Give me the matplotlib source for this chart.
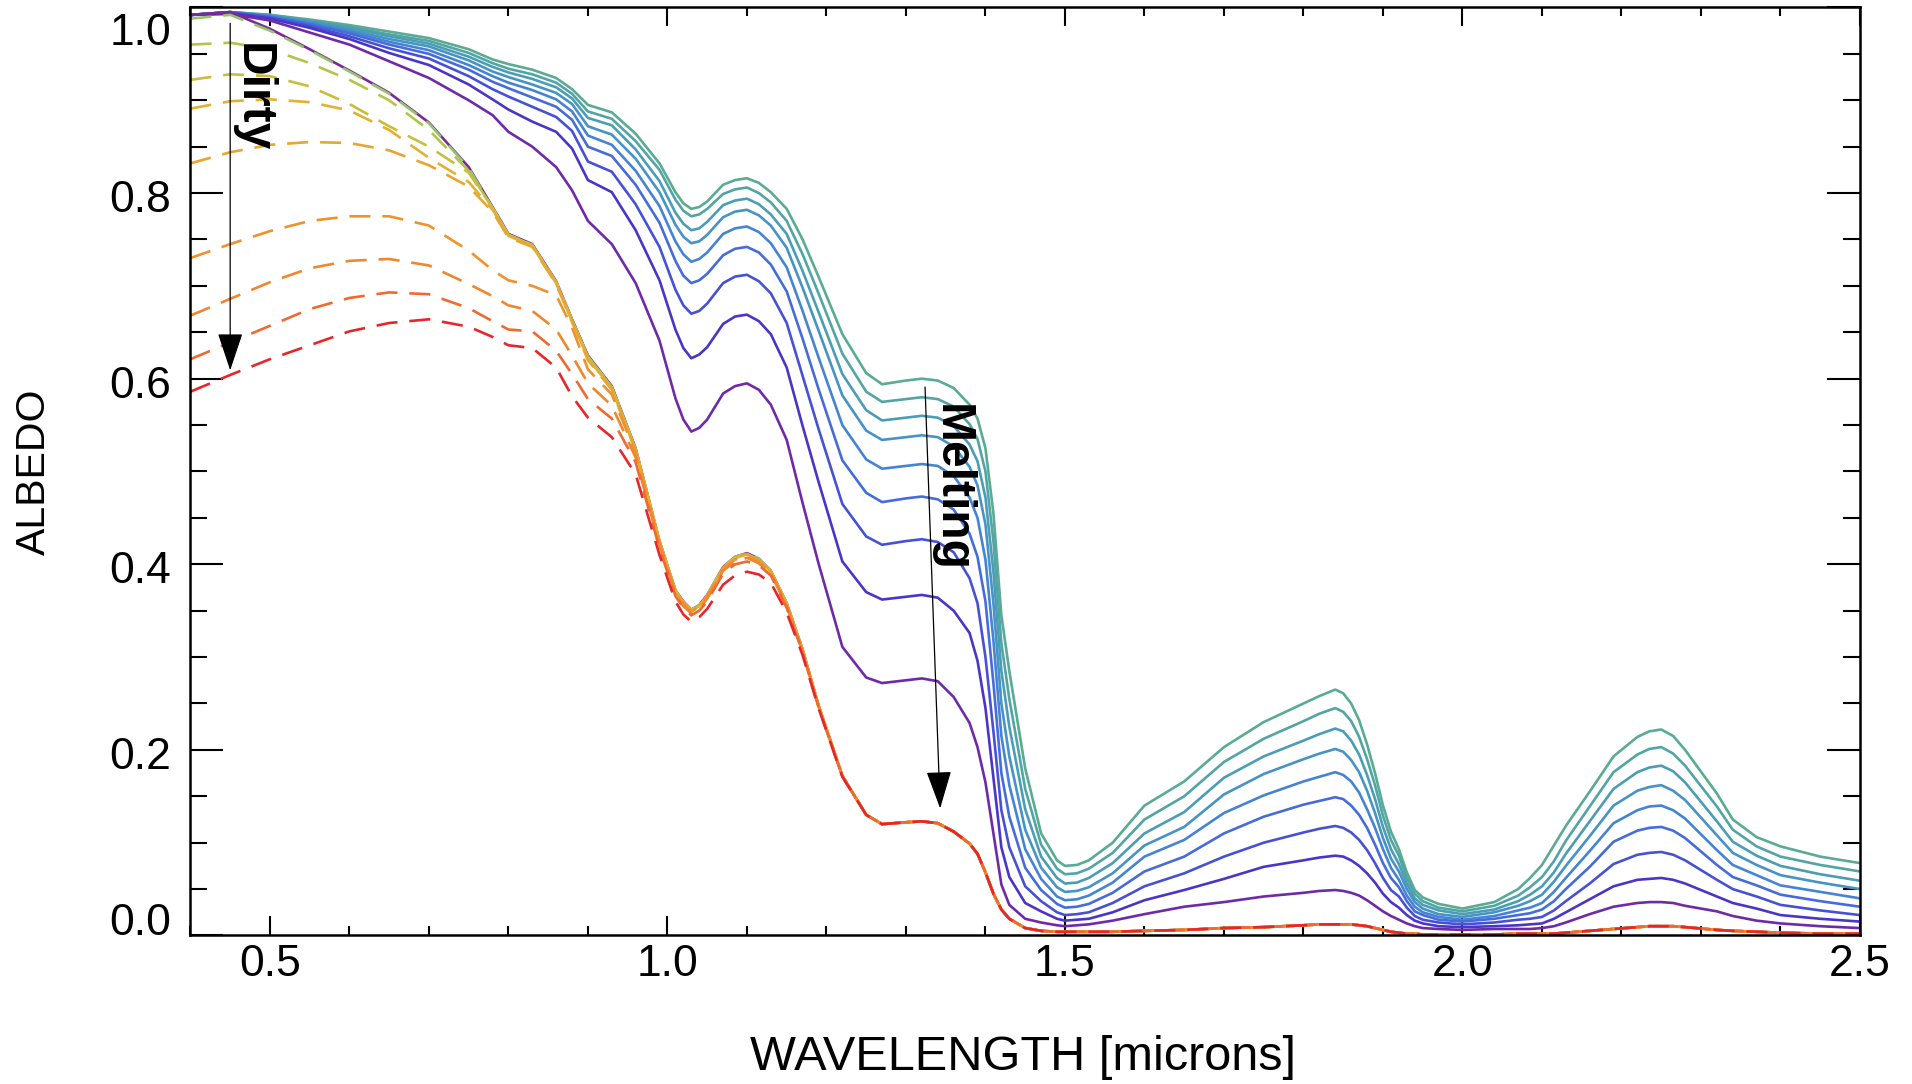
import matplotlib
matplotlib.use("Agg")
import matplotlib.pyplot as plt
from matplotlib.ticker import MultipleLocator, FormatStrFormatter
from matplotlib.transforms import ScaledTranslation

plt.rcParams['font.family'] = ['Liberation Sans', 'DejaVu Sans']

# wavelength grid (microns)
wavelength = [0.40, 0.45, 0.50, 0.55, 0.60, 0.65, 0.70, 0.75, 0.78, 0.80,
              0.83, 0.86, 0.88, 0.90, 0.93, 0.96, 0.99, 1.01, 1.02, 1.03,
              1.04, 1.05, 1.07, 1.085, 1.10, 1.115, 1.13, 1.15, 1.17, 1.19,
              1.22, 1.25,
              1.27, 1.30, 1.32, 1.34, 1.36, 1.38, 1.39, 1.40,
              1.41, 1.42, 1.43, 1.45, 1.47, 1.49, 1.50, 1.515, 1.53, 1.56,
              1.60, 1.65, 1.70, 1.75, 1.80, 1.82, 1.84, 1.85, 1.86, 1.87,
              1.88, 1.89, 1.90, 1.91, 1.92, 1.93, 1.94, 1.95, 1.97, 2.00,
              2.04, 2.07, 2.085, 2.10, 2.115, 2.13, 2.16, 2.19, 2.22, 2.235, 2.25, 2.265,
              2.28, 2.32, 2.34, 2.37, 2.40, 2.45, 2.50]

# clean snow, grain size growing as it melts (top -> bottom)
melt_1 = [0.992, 0.995, 0.992, 0.987, 0.981, 0.974, 0.967, 0.955, 0.944, 0.939,
          0.933, 0.924, 0.912, 0.895, 0.887, 0.864, 0.832, 0.801, 0.789, 0.783,
          0.785, 0.791, 0.809, 0.814, 0.816, 0.811, 0.801, 0.783, 0.750, 0.710,
          0.648, 0.606,
          0.594, 0.598, 0.600, 0.598, 0.590, 0.572, 0.557, 0.525,
          0.455, 0.345, 0.285, 0.180, 0.110, 0.081, 0.075, 0.076, 0.081, 0.100,
          0.140, 0.166, 0.203, 0.230, 0.250, 0.258, 0.265, 0.261, 0.250, 0.232,
          0.206, 0.175, 0.140, 0.112, 0.093, 0.068, 0.049, 0.041, 0.034, 0.029,
          0.036, 0.050, 0.062, 0.076, 0.097, 0.118, 0.155, 0.193, 0.214, 0.220, 0.222, 0.215,
          0.200, 0.153, 0.125, 0.106, 0.096, 0.085, 0.078]
melt_2 = [0.992, 0.995, 0.992, 0.986, 0.979, 0.971, 0.964, 0.951, 0.940, 0.934,
          0.928, 0.919, 0.907, 0.888, 0.880, 0.856, 0.825, 0.793, 0.781, 0.775,
          0.777, 0.783, 0.799, 0.804, 0.806, 0.800, 0.790, 0.770, 0.734, 0.692,
          0.627, 0.586,
          0.575, 0.578, 0.580, 0.578, 0.570, 0.551, 0.535, 0.500,
          0.425, 0.315, 0.255, 0.158, 0.098, 0.072, 0.066, 0.067, 0.072, 0.089,
          0.125, 0.150, 0.187, 0.212, 0.231, 0.239, 0.245, 0.241, 0.231, 0.214,
          0.190, 0.162, 0.129, 0.103, 0.086, 0.062, 0.045, 0.037, 0.030, 0.026,
          0.032, 0.043, 0.052, 0.063, 0.080, 0.102, 0.139, 0.176, 0.195, 0.201, 0.203, 0.196,
          0.183, 0.139, 0.114, 0.096, 0.085, 0.076, 0.069]
melt_3 = [0.992, 0.995, 0.991, 0.985, 0.978, 0.969, 0.961, 0.947, 0.936, 0.930,
          0.923, 0.914, 0.902, 0.881, 0.873, 0.847, 0.813, 0.779, 0.767, 0.760,
          0.762, 0.769, 0.787, 0.792, 0.794, 0.788, 0.777, 0.756, 0.716, 0.672,
          0.605, 0.566,
          0.555, 0.558, 0.560, 0.558, 0.549, 0.529, 0.511, 0.472,
          0.392, 0.285, 0.225, 0.136, 0.085, 0.062, 0.056, 0.057, 0.062, 0.078,
          0.110, 0.133, 0.170, 0.193, 0.210, 0.217, 0.223, 0.220, 0.210, 0.195,
          0.173, 0.147, 0.117, 0.093, 0.077, 0.056, 0.040, 0.033, 0.027, 0.023,
          0.028, 0.037, 0.044, 0.053, 0.068, 0.088, 0.123, 0.158, 0.176, 0.181, 0.183, 0.177,
          0.165, 0.123, 0.101, 0.086, 0.075, 0.066, 0.059]
melt_4 = [0.992, 0.995, 0.991, 0.984, 0.976, 0.966, 0.958, 0.943, 0.931, 0.925,
          0.917, 0.908, 0.896, 0.872, 0.863, 0.837, 0.801, 0.766, 0.753, 0.746,
          0.748, 0.755, 0.774, 0.780, 0.782, 0.776, 0.765, 0.741, 0.698, 0.652,
          0.582, 0.544,
          0.534, 0.537, 0.539, 0.537, 0.527, 0.505, 0.485, 0.443,
          0.358, 0.250, 0.193, 0.114, 0.073, 0.052, 0.047, 0.048, 0.052, 0.067,
          0.097, 0.117, 0.152, 0.174, 0.190, 0.196, 0.201, 0.198, 0.189, 0.176,
          0.156, 0.132, 0.105, 0.083, 0.069, 0.050, 0.036, 0.029, 0.023, 0.020,
          0.025, 0.032, 0.037, 0.044, 0.058, 0.075, 0.107, 0.140, 0.156, 0.160, 0.162, 0.156,
          0.146, 0.108, 0.089, 0.076, 0.065, 0.057, 0.050]
melt_5 = [0.992, 0.995, 0.990, 0.983, 0.974, 0.963, 0.954, 0.938, 0.926, 0.919,
          0.911, 0.901, 0.888, 0.862, 0.852, 0.824, 0.786, 0.748, 0.734, 0.726,
          0.729, 0.736, 0.756, 0.762, 0.764, 0.758, 0.746, 0.720, 0.673, 0.623,
          0.550, 0.513,
          0.503, 0.506, 0.508, 0.506, 0.495, 0.472, 0.450, 0.405,
          0.318, 0.215, 0.162, 0.093, 0.061, 0.042, 0.038, 0.039, 0.043, 0.057,
          0.085, 0.103, 0.132, 0.151, 0.166, 0.171, 0.176, 0.173, 0.166, 0.154,
          0.136, 0.116, 0.093, 0.073, 0.060, 0.043, 0.031, 0.025, 0.020, 0.017,
          0.021, 0.027, 0.030, 0.035, 0.047, 0.062, 0.091, 0.121, 0.135, 0.139, 0.140, 0.135,
          0.126, 0.092, 0.076, 0.065, 0.054, 0.047, 0.040]
melt_6 = [0.992, 0.995, 0.990, 0.982, 0.972, 0.960, 0.950, 0.933, 0.920, 0.913,
          0.903, 0.893, 0.879, 0.850, 0.840, 0.809, 0.768, 0.727, 0.711, 0.703,
          0.706, 0.713, 0.733, 0.740, 0.742, 0.736, 0.723, 0.694, 0.643, 0.589,
          0.512, 0.477,
          0.467, 0.471, 0.473, 0.470, 0.459, 0.433, 0.408, 0.360,
          0.272, 0.175, 0.128, 0.073, 0.049, 0.034, 0.030, 0.031, 0.034, 0.046,
          0.069, 0.085, 0.110, 0.128, 0.141, 0.145, 0.149, 0.147, 0.140, 0.130,
          0.116, 0.098, 0.078, 0.062, 0.052, 0.037, 0.026, 0.022, 0.017, 0.015,
          0.018, 0.022, 0.024, 0.028, 0.037, 0.050, 0.074, 0.101, 0.113, 0.116, 0.117, 0.113,
          0.105, 0.076, 0.063, 0.054, 0.044, 0.037, 0.031]
melt_7 = [0.992, 0.994, 0.989, 0.980, 0.969, 0.956, 0.945, 0.926, 0.912, 0.904,
          0.893, 0.882, 0.867, 0.834, 0.823, 0.788, 0.742, 0.696, 0.679, 0.670,
          0.673, 0.681, 0.703, 0.710, 0.712, 0.705, 0.692, 0.660, 0.603, 0.546,
          0.465, 0.430,
          0.421, 0.425, 0.427, 0.424, 0.413, 0.385, 0.358, 0.300,
          0.220, 0.135, 0.095, 0.053, 0.037, 0.025, 0.022, 0.023, 0.025, 0.035,
          0.053, 0.067, 0.085, 0.100, 0.111, 0.115, 0.118, 0.116, 0.111, 0.103,
          0.092, 0.078, 0.062, 0.049, 0.042, 0.030, 0.021, 0.017, 0.014, 0.012,
          0.014, 0.017, 0.018, 0.020, 0.027, 0.037, 0.056, 0.077, 0.087, 0.089, 0.090, 0.087,
          0.081, 0.060, 0.050, 0.042, 0.033, 0.027, 0.022]
melt_8 = [0.992, 0.994, 0.988, 0.978, 0.966, 0.951, 0.938, 0.917, 0.901, 0.890,
          0.877, 0.866, 0.848, 0.814, 0.801, 0.760, 0.706, 0.653, 0.633, 0.622,
          0.626, 0.634, 0.659, 0.667, 0.669, 0.662, 0.648, 0.612, 0.549, 0.489,
          0.403, 0.370,
          0.362, 0.365, 0.367, 0.364, 0.350, 0.326, 0.296, 0.245,
          0.170, 0.095, 0.063, 0.035, 0.026, 0.018, 0.016, 0.017, 0.018, 0.025,
          0.038, 0.049, 0.061, 0.074, 0.081, 0.084, 0.086, 0.085, 0.081, 0.075,
          0.067, 0.057, 0.045, 0.036, 0.030, 0.022, 0.016, 0.013, 0.010, 0.009,
          0.010, 0.011, 0.012, 0.013, 0.018, 0.025, 0.039, 0.053, 0.060, 0.061, 0.062, 0.060,
          0.056, 0.042, 0.035, 0.029, 0.022, 0.018, 0.015]
melt_9 = [0.992, 0.993, 0.986, 0.973, 0.960, 0.942, 0.924, 0.900, 0.884, 0.866,
          0.850, 0.828, 0.803, 0.770, 0.745, 0.703, 0.641, 0.579, 0.556, 0.543,
          0.547, 0.556, 0.584, 0.592, 0.595, 0.588, 0.572, 0.534, 0.466, 0.401,
          0.311, 0.278,
          0.272, 0.275, 0.277, 0.274, 0.257, 0.229, 0.203, 0.165,
          0.110, 0.055, 0.033, 0.018, 0.014, 0.011, 0.010, 0.011, 0.012, 0.016,
          0.023, 0.031, 0.036, 0.042, 0.046, 0.048, 0.049, 0.048, 0.046, 0.043,
          0.038, 0.032, 0.026, 0.021, 0.017, 0.013, 0.010, 0.008, 0.007, 0.006,
          0.007, 0.007, 0.007, 0.008, 0.010, 0.014, 0.023, 0.031, 0.035, 0.036, 0.036, 0.035,
          0.032, 0.026, 0.021, 0.016, 0.013, 0.010, 0.008]
melt_10 = [0.992, 0.995, 0.977, 0.955, 0.932, 0.908, 0.876, 0.828, 0.785, 0.756,
           0.745, 0.705, 0.664, 0.625, 0.592, 0.525, 0.425, 0.372, 0.360, 0.351,
           0.356, 0.367, 0.397, 0.408, 0.412, 0.406, 0.393, 0.358, 0.308, 0.248,
           0.172, 0.130,
           0.120, 0.122, 0.123, 0.121, 0.112, 0.099, 0.088, 0.068,
           0.045, 0.028, 0.018, 0.008, 0.005, 0.004, 0.004, 0.004, 0.004, 0.004,
           0.005, 0.006, 0.008, 0.009, 0.011, 0.012, 0.012, 0.012, 0.012, 0.011,
           0.010, 0.008, 0.006, 0.004, 0.003, 0.002, 0.002, 0.001, 0.001, 0.001,
           0.001, 0.002, 0.002, 0.002, 0.002, 0.003, 0.005, 0.007, 0.009, 0.010, 0.010, 0.010,
           0.009, 0.006, 0.005, 0.004, 0.003, 0.002, 0.002]

# dirty snow, 0.40-1.25 microns; beyond that they follow melt_10
dirty_1 = [0.988, 0.992, 0.975, 0.954, 0.931, 0.907, 0.875, 0.827, 0.784, 0.755, 0.744, 0.704, 0.663, 0.624, 0.591, 0.524,
           0.425, 0.372, 0.360, 0.351, 0.356, 0.367, 0.397, 0.408, 0.412, 0.406, 0.393, 0.358, 0.308, 0.248, 0.172, 0.130]
dirty_2 = [0.960, 0.962, 0.955, 0.940, 0.922, 0.900, 0.868, 0.824, 0.784, 0.755, 0.744, 0.704, 0.663, 0.624, 0.591, 0.524,
           0.425, 0.372, 0.359, 0.350, 0.355, 0.366, 0.396, 0.407, 0.411, 0.405, 0.393, 0.358, 0.308, 0.248, 0.172, 0.130]
dirty_3 = [0.922, 0.928, 0.926, 0.915, 0.896, 0.872, 0.850, 0.822, 0.784, 0.755, 0.744, 0.704, 0.663, 0.623, 0.590, 0.524,
           0.425, 0.372, 0.359, 0.350, 0.355, 0.366, 0.396, 0.407, 0.411, 0.404, 0.392, 0.357, 0.308, 0.248, 0.172, 0.130]
dirty_4 = [0.891, 0.899, 0.901, 0.898, 0.889, 0.868, 0.838, 0.812, 0.782, 0.754, 0.743, 0.703, 0.662, 0.622, 0.589, 0.523,
           0.424, 0.371, 0.359, 0.350, 0.355, 0.366, 0.396, 0.407, 0.411, 0.404, 0.392, 0.357, 0.307, 0.248, 0.172, 0.130]
dirty_5 = [0.832, 0.844, 0.852, 0.855, 0.854, 0.846, 0.830, 0.807, 0.780, 0.752, 0.742, 0.702, 0.661, 0.620, 0.588, 0.522,
           0.424, 0.371, 0.359, 0.350, 0.355, 0.366, 0.396, 0.407, 0.411, 0.404, 0.392, 0.357, 0.307, 0.248, 0.172, 0.130]
dirty_6 = [0.730, 0.745, 0.759, 0.770, 0.775, 0.775, 0.765, 0.738, 0.717, 0.706, 0.700, 0.690, 0.655, 0.610, 0.583, 0.520,
           0.423, 0.370, 0.357, 0.349, 0.354, 0.365, 0.395, 0.405, 0.409, 0.403, 0.391, 0.356, 0.307, 0.247, 0.172, 0.130]
dirty_7 = [0.668, 0.686, 0.704, 0.719, 0.727, 0.729, 0.722, 0.702, 0.689, 0.679, 0.673, 0.653, 0.625, 0.595, 0.571, 0.515,
           0.420, 0.368, 0.355, 0.347, 0.352, 0.363, 0.393, 0.403, 0.407, 0.401, 0.390, 0.355, 0.306, 0.247, 0.172, 0.130]
dirty_8 = [0.621, 0.639, 0.657, 0.675, 0.687, 0.693, 0.691, 0.676, 0.662, 0.653, 0.651, 0.630, 0.605, 0.578, 0.557, 0.510,
           0.417, 0.366, 0.353, 0.345, 0.350, 0.360, 0.390, 0.400, 0.403, 0.399, 0.388, 0.353, 0.305, 0.246, 0.171, 0.130]
dirty_9 = [0.586, 0.604, 0.621, 0.636, 0.651, 0.660, 0.664, 0.656, 0.645, 0.636, 0.633, 0.612, 0.581, 0.558, 0.537, 0.497,
           0.410, 0.360, 0.346, 0.338, 0.343, 0.352, 0.378, 0.388, 0.392, 0.389, 0.380, 0.348, 0.302, 0.245, 0.171, 0.130]

melt_curves = [melt_1, melt_2, melt_3, melt_4, melt_5, melt_6, melt_7, melt_8, melt_9, melt_10]
melt_colors = ['#5aab93', '#52a5a4', '#4b9db5', '#4693c6', '#4584d3', '#456cda',
               '#4651d6', '#4a35c9', '#6e2aa8', '#7b2a92']
dirty_curves = [dirty_1, dirty_2, dirty_3, dirty_4, dirty_5, dirty_6, dirty_7, dirty_8, dirty_9]
dirty_colors = ['#94c472', '#b4c44a', '#c9be3c', '#e2b032', '#eaa530', '#f0922c',
                '#f0862e', '#ee6a2e', '#e8262a']

fig = plt.figure(figsize=(19.12, 10.84), dpi=100)
ax = fig.add_axes([0.0996, 0.1370, 0.8732, 0.8561])

for vals, c in zip(melt_curves, melt_colors):
    ax.plot(wavelength, vals, color=c, lw=1.9, solid_joinstyle='round')

n_head = len(dirty_1)
for vals, c in zip(dirty_curves, dirty_colors):
    ax.plot(wavelength, vals + melt_10[n_head:], color=c, lw=1.9,
            linestyle=(0, (8, 4.5)))

ax.set_xlim(0.4, 2.5)
ax.set_ylim(0.0, 1.0)

ax.xaxis.set_major_locator(MultipleLocator(0.5))
ax.xaxis.set_minor_locator(MultipleLocator(0.1))
ax.set_yticks([0.0, 0.2, 0.4, 0.6, 0.8, 1.0])
ax.yaxis.set_minor_locator(MultipleLocator(0.05))
ax.xaxis.set_major_formatter(FormatStrFormatter('%.1f'))
ax.yaxis.set_major_formatter(FormatStrFormatter('%.1f'))

ax.tick_params(axis='x', which='both', direction='in', top=True, bottom=True,
               labelsize=32, pad=6, width=1.5)
ax.tick_params(axis='x', which='major', length=13.5)
ax.tick_params(axis='x', which='minor', length=6.8)
ax.tick_params(axis='y', which='both', direction='in', left=True, right=True,
               labelsize=32, pad=14, width=1.5)
ax.tick_params(axis='y', which='major', length=24)
ax.tick_params(axis='y', which='minor', length=12)
for s in ax.spines.values():
    s.set_linewidth(1.8)

# IDL-style nudging of the end labels
for lab, val in zip(ax.get_yticklabels(), ax.get_yticks()):
    dy = -3
    if val >= 0.99:
        dy = -22
    elif val <= 0.01:
        dy = 16
    lab.set_transform(lab.get_transform() + ScaledTranslation(0, dy / 100, fig.dpi_scale_trans))

fig.text(1023 / 1912, 1 - 1058 / 1084, 'WAVELENGTH [microns]', ha='center', va='center', fontsize=35)
fig.text(34 / 1912, 1 - 472 / 1084, 'ALBEDO', ha='center', va='center', rotation=90, fontsize=29.5)

arrow_style = dict(arrowstyle='-|>,head_length=1.2,head_width=0.4', color='black',
                   lw=0.9, shrinkA=0, shrinkB=0, mutation_scale=20)
ax.annotate('', xy=(0.450, 0.609), xytext=(0.450, 0.983), arrowprops=arrow_style)
ax.annotate('', xy=(1.343, 0.137), xytext=(1.324, 0.591), arrowprops=arrow_style)

ax.text(0.478, 0.903, 'Dirty', rotation=-90, ha='center', va='center',
        fontsize=34.5, fontweight='bold')
ax.text(1.357, 0.482, 'Melting', rotation=-90, ha='center', va='center',
        fontsize=34.5, fontweight='bold')

fig.savefig('out.png', dpi=100)
